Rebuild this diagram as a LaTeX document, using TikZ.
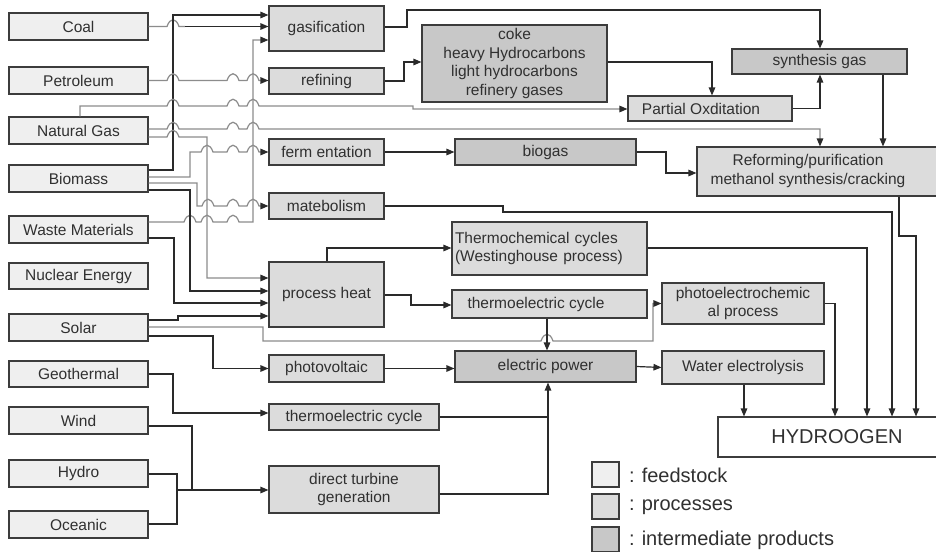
\documentclass[tikz,border=0pt]{standalone}
\usepackage{fontspec}
\setmainfont{Liberation Sans}
\usetikzlibrary{arrows.meta}
\definecolor{feedc}{HTML}{EFEFEF}
\definecolor{procc}{HTML}{DCDCDC}
\definecolor{interc}{HTML}{C8C8C8}
\definecolor{bordc}{HTML}{3C3C3C}
\definecolor{lnc}{HTML}{2A2A2A}
\definecolor{glc}{HTML}{8C8C8C}
\definecolor{txc}{HTML}{303030}
\newcommand\hop[2]{-- (#1-6,#2) .. controls (#1-3,#2-9) and (#1+3,#2-9) .. (#1+6,#2)}
\begin{document}
\begin{tikzpicture}[x=1pt,y=-1pt,
 box/.style={draw=bordc,line width=1.1pt,inner sep=0pt,align=center,text=txc,font=\fontsize{15.5}{18.5}\selectfont},
 feed/.style={box,fill=feedc},
 proc/.style={box,fill=procc},
 inter/.style={box,fill=interc},
 wh/.style 2 args={minimum width=#1pt,minimum height=#2pt},
 ln/.style={draw=lnc,line width=1.2pt},
 gl/.style={draw=glc,line width=1.2pt},
 arr/.style={-{Triangle[length=8pt,width=6.5pt,color=lnc,fill=lnc]}},
 legtxt/.style={anchor=west,inner sep=0pt,text=txc,font=\fontsize{20}{24}\selectfont},
]
\useasboundingbox[fill=white] (0,0) rectangle (936,551);
% feedstock
\node[feed,wh={139}{27}] (coal)    at (78.5,26.5)  {Coal};
\node[feed,wh={139}{27}] (petro)   at (78.5,80.5)  {Petroleum};
\node[feed,wh={139}{27}] (natgas)  at (78.5,130.5) {Natural Gas};
\node[feed,wh={139}{27}] (biomass) at (78.5,178.5) {Biomass};
\node[feed,wh={139}{27}] (waste)   at (78.5,229.5) {Waste Materials};
\node[feed,wh={139}{26}] (nuclear) at (78.5,276)   {Nuclear Energy};
\node[feed,wh={139}{27}] (solar)   at (78.5,327.5) {Solar};
\node[feed,wh={139}{26}] (geo)     at (78.5,374)   {Geothermal};
\node[feed,wh={139}{27}] (wind)    at (78.5,420.5) {Wind};
\node[feed,wh={139}{27}] (hydro)   at (78.5,473.5) {Hydro};
\node[feed,wh={139}{27}] (oceanic) at (78.5,524.5) {Oceanic};
% processes
\node[proc,wh={115}{45}] (gasif)    at (326.5,28.5)  {gasification};
\node[proc,wh={115}{26}] (refining) at (326.5,81)    {refining};
\node[proc,wh={115}{26}] (ferment)  at (326.5,152)   {ferm entation};
\node[proc,wh={115}{26}] (mateb)    at (326.5,206)   {matebolism};
\node[proc,wh={115}{65}] (heat)     at (326.5,294.5) {process heat};
\node[proc,wh={115}{27}] (photov)   at (326.5,368.5) {photovoltaic};
\node[proc,wh={170}{26}] (thermo2)  at (354,417)     {thermoelectric cycle};
\node[proc,wh={170}{47}] (turbine)  at (354,489.5)   {direct turbine\\generation};
\node[inter,wh={185}{77}] (coke)    at (514.5,63.5)  {coke\\heavy Hydrocarbons\\light hydrocarbons\\refinery gases};
\node[inter,wh={181}{26}] (biogas)  at (545.5,152)   {biogas};
\node[inter,wh={175}{25}] (syngas)  at (819.5,61.5)  {synthesis gas};
\node[proc,wh={164}{25}] (partial)  at (710,108.5)   {\hspace*{-18pt}Partial Oxditation};
\node[proc,wh={248}{49}] (reform)   at (821,171.5)   {\hspace*{-26pt}\begin{tabular}{@{}c@{}}Reforming/purification\\methanol synthesis/cracking\end{tabular}};
\node[proc,wh={195}{53},align=left,inner xsep=3pt,text width=189pt] (thermochem) at (549.5,248.5) {Thermochemical cycles\\(Westinghouse process)};
\node[proc,wh={195}{28}] (thermo1)  at (549.5,304)   {\hspace*{-27pt}thermoelectric cycle};
\node[inter,wh={181}{31}] (power)   at (545.5,366.5) {electric power};
\node[proc,wh={162}{41}] (photoec)  at (743,303.5)   {photoelectrochemic\\al process};
\node[proc,wh={162}{33}] (water)    at (743,367.5)   {Water electrolysis};
\node[box,fill=white,wh={238}{40},font=\fontsize{20}{24}\selectfont] (hyd) at (837,437) {HYDROOGEN};
% legend
\node[feed,wh={27}{25}] (lf) at (605.5,474.5) {};
\node[proc,wh={27}{25}] (lp) at (605.5,506.5) {};
\node[inter,wh={27}{25}] (li) at (605.5,539.5) {};
\node[legtxt] (lft) at (629,475) {:\hspace{7pt}feedstock};
\node[legtxt] (lpt) at (629,507) {:\hspace{7pt}processes};
\node[legtxt] (lit) at (629,540) {:\hspace{7pt}intermediate products};
% junction coordinates
\coordinate (c1) at (185,26.5);
\coordinate (j0) at (177,490);
\coordinate (j1) at (192,490);
\coordinate (j2) at (548,417);
% left connectors
\draw[gl] (coal.east) \hop{173}{26.5} -- (c1);
\draw[ln,arr] (c1) -- (gasif.west |- c1);
\draw[ln,arr] (biomass.east |- 0,170) -- (173,170) -- (173,15) -- (gasif.west |- 0,15);
\draw[gl,arr] (waste.east |- 0,222) \hop{190}{222} \hop{207}{222} \hop{233}{222} -- (253,222) -- (253,40) -- (gasif.west |- 0,40);
\draw[gl,arr] (petro.east) \hop{173}{80.5} \hop{233}{80.5} \hop{253}{80.5} -- (refining.west |- 0,80.5);
\draw[gl,arr] (natgas.north -| 80,0) -- (80,106) \hop{173}{106} \hop{233}{106} \hop{253}{106} -- (413,106) -- (413,109) -- (partial.west |- 0,109);
\draw[gl,arr] (natgas.east |- 0,129) \hop{173}{129} \hop{233}{129} \hop{253}{129} -- (820,129) -- (reform.north -| 820,0);
\draw[gl,arr] (natgas.east |- 0,137) \hop{173}{137} -- (207,137) -- (207,278) -- (heat.west |- 0,278);
\draw[gl,arr] (biomass.east |- 0,177) -- (190,177) -- (190,152) \hop{207}{152} \hop{233}{152} \hop{253}{152} -- (ferment.west);
\draw[gl,arr] (biomass.east |- 0,183) -- (197,183) -- (197,206) \hop{208}{206} \hop{233}{206} \hop{253}{206} -- (mateb.west);
\draw[ln,arr] (biomass.east |- 0,190) -- (190,190) -- (190,291) -- (heat.west |- 0,291);
\draw[ln,arr] (waste.east |- 0,238) -- (174,238) -- (174,303) -- (heat.west |- 0,303);
\draw[ln,arr] (solar.east |- 0,320) -- (178,320) -- (178,316) -- (heat.west |- 0,316);
\draw[gl,arr] (solar.east |- 0,327) -- (263,327) -- (263,341) \hop{547}{341} -- (653,341) -- (653,303.5) -- (photoec.west);
\draw[ln,arr] (solar.east |- 0,336) -- (213,336) -- (213,368.5) -- (photov.west);
\draw[ln,arr] (geo.east) -- (173,374) -- (173,413) -- (thermo2.west |- 0,413);
\draw[ln] (wind.east |- 0,426) -- (192,426) -- (j1);
\draw[ln] (hydro.east |- 0,474) -- (177,474) -- (177,524) -- (oceanic.east |- 0,524);
\draw[ln,arr] (j0) -- (turbine.west |- j0);
% upper right connectors
\draw[ln,arr] (gasif.east |- 0,27) -- (407,27) -- (407,10) -- (820,10) -- (syngas.north -| 820,0);
\draw[ln,arr] (refining.east) -- (404,81) -- (404,62) -- (coke.west |- 0,62);
\draw[ln,arr] (coke.east |- 0,62) -- (712,62) -- (partial.north -| 712,0);
\draw[ln,arr] (partial.east) -- (820,108.5) -- (syngas.south -| 820,0);
\draw[ln,arr] (syngas.south -| 883,0) -- (reform.north -| 883,0);
\draw[ln,arr] (ferment.east) -- (biogas.west);
\draw[ln,arr] (biogas.east) -- (666,152) -- (666,173) -- (reform.west |- 0,173);
\draw[ln,arr] (mateb.east) -- (503,206) -- (503,212) -- (892,212) -- (hyd.north -| 892,0);
\draw[ln,arr] (reform.south -| 899,0) -- (899,236) -- (916,236) -- (hyd.north -| 916,0);
\draw[ln,arr] (thermochem.east |- 0,248) -- (867,248) -- (hyd.north -| 867,0);
\draw[ln,arr] (photoec.east) -- (835,303.5) -- (hyd.north -| 835,0);
\draw[ln,arr] (water.south -| 744,0) -- (hyd.north -| 744,0);
\draw[ln,arr] (power.east) -- (water.west);
% lower middle connectors
\draw[ln,arr] (heat.north -| 327,0) -- (327,248) -- (thermochem.west |- 0,248);
\draw[ln,arr] (heat.east |- 0,295) -- (411,295) -- (411,305) -- (thermo1.west |- 0,305);
\draw[ln,arr] (thermo1.south -| 547,0) -- (power.north -| 547,0);
\draw[ln,arr] (photov.east) -- (power.west |- photov.east);
\draw[ln,arr] (thermo2.east) -- (j2) -- (power.south -| j2);
\draw[ln] (turbine.east |- 0,494) -- (548,494) -- (j2);
\end{tikzpicture}
\end{document}
